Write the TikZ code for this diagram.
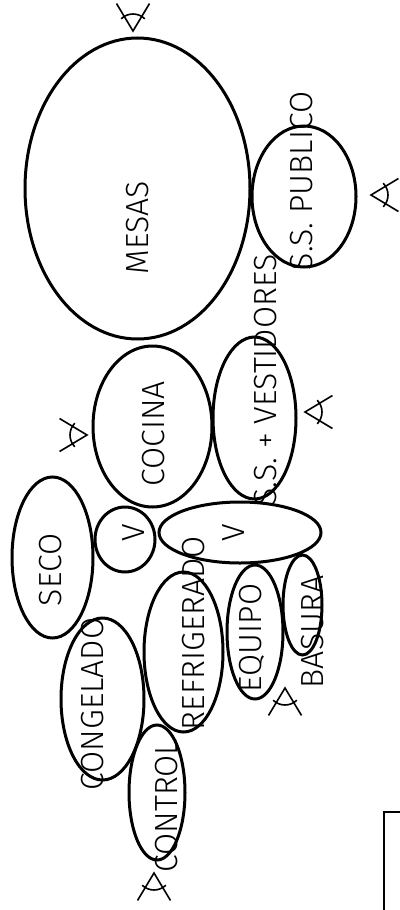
\documentclass[tikz,border=0pt]{standalone}
\usepackage{fontspec}
\setmainfont{Fira Sans}[UprightFont={* Light}]
\usepackage{tikz}
\usetikzlibrary{shapes.geometric}

\tikzset{
  eye/.pic={
    \draw[line width=1.6pt, y=1pt] (-31:32) -- (0,0) -- (31:32);
    \draw[line width=1.6pt, y=1pt] (-44:17) arc[start angle=-44, end angle=44, radius=17];
  }
}

\begin{document}
\begin{tikzpicture}[
    x=1pt, y=-1pt,
    zone/.style={ellipse, draw, line width=3pt, inner sep=0pt},
    lbl/.style={rotate=90, inner sep=0pt, text depth=0pt, font=\fontsize{32}{34}\selectfont}
]
\path[use as bounding box] (0,0) rectangle (399,910);

% Zones
\node[zone, minimum width=225pt, minimum height=301pt] (mesas) at (137.5,188.5) {};
\node[zone, minimum width=104pt, minimum height=141pt] (publico) at (304,196.5) {};
\node[zone, minimum width=119pt, minimum height=161pt] (cocina) at (152.5,426.5) {};
\node[zone, minimum width=83pt, minimum height=162pt] (vestidores) at (254.5,418) {};
\node[zone, minimum width=81pt, minimum height=161pt] (seco) at (52.5,557.5) {};
\node[zone, minimum width=60pt, minimum height=65pt] (v1) at (125,539.5) {};
\node[zone, minimum width=162pt, minimum height=61pt] (v2) at (240,532.5) {};
\node[zone, minimum width=83pt, minimum height=162pt] (congelado) at (102.5,699) {};
\node[zone, minimum width=79pt, minimum height=160pt] (refrigerado) at (183.5,652) {};
\node[zone, minimum width=56pt, minimum height=134pt] (equipo) at (255,632) {};
\node[zone, minimum width=39pt, minimum height=100pt] (basura) at (302.5,605) {};
\node[zone, minimum width=56pt, minimum height=135pt] (control) at (157,792.5) {};

% Labels
\node[lbl] (mesas-t) at (137,227.5) {MESAS};
\node[lbl] (publico-t) at (301,181) {S.S. PUBLICO};
\node[lbl] (cocina-t) at (153,434) {COCINA};
\node[lbl] (vestidores-t) at (265,380) {S.S. + VESTIDORES};
\node[lbl] (seco-t) at (50,570) {SECO};
\node[lbl] (v1-t) at (134,533) {V};
\node[lbl] (v2-t) at (234,532.5) {V};
\node[lbl] (congelado-t) at (92,704) {CONGELADO};
\node[lbl] (refrigerado-t) at (193,633) {REFRIGERADO};
\node[lbl] (equipo-t) at (250,638) {EQUIPO};
\node[lbl] (basura-t) at (312,632) {BASURA};
\node[lbl] (control-t) at (166,806) {CONTROL};

% Views
\foreach \x/\y/\r in {133/31/90, 371/195/0, 87/435/180, 305/412/0, 285/688/-90, 154/873/-90} {
    \pic[rotate=\r] at (\x,\y) {eye};
}

% Box
\draw[line width=2.3pt] (384,915) |- (405,812);
\end{tikzpicture}
\end{document}
